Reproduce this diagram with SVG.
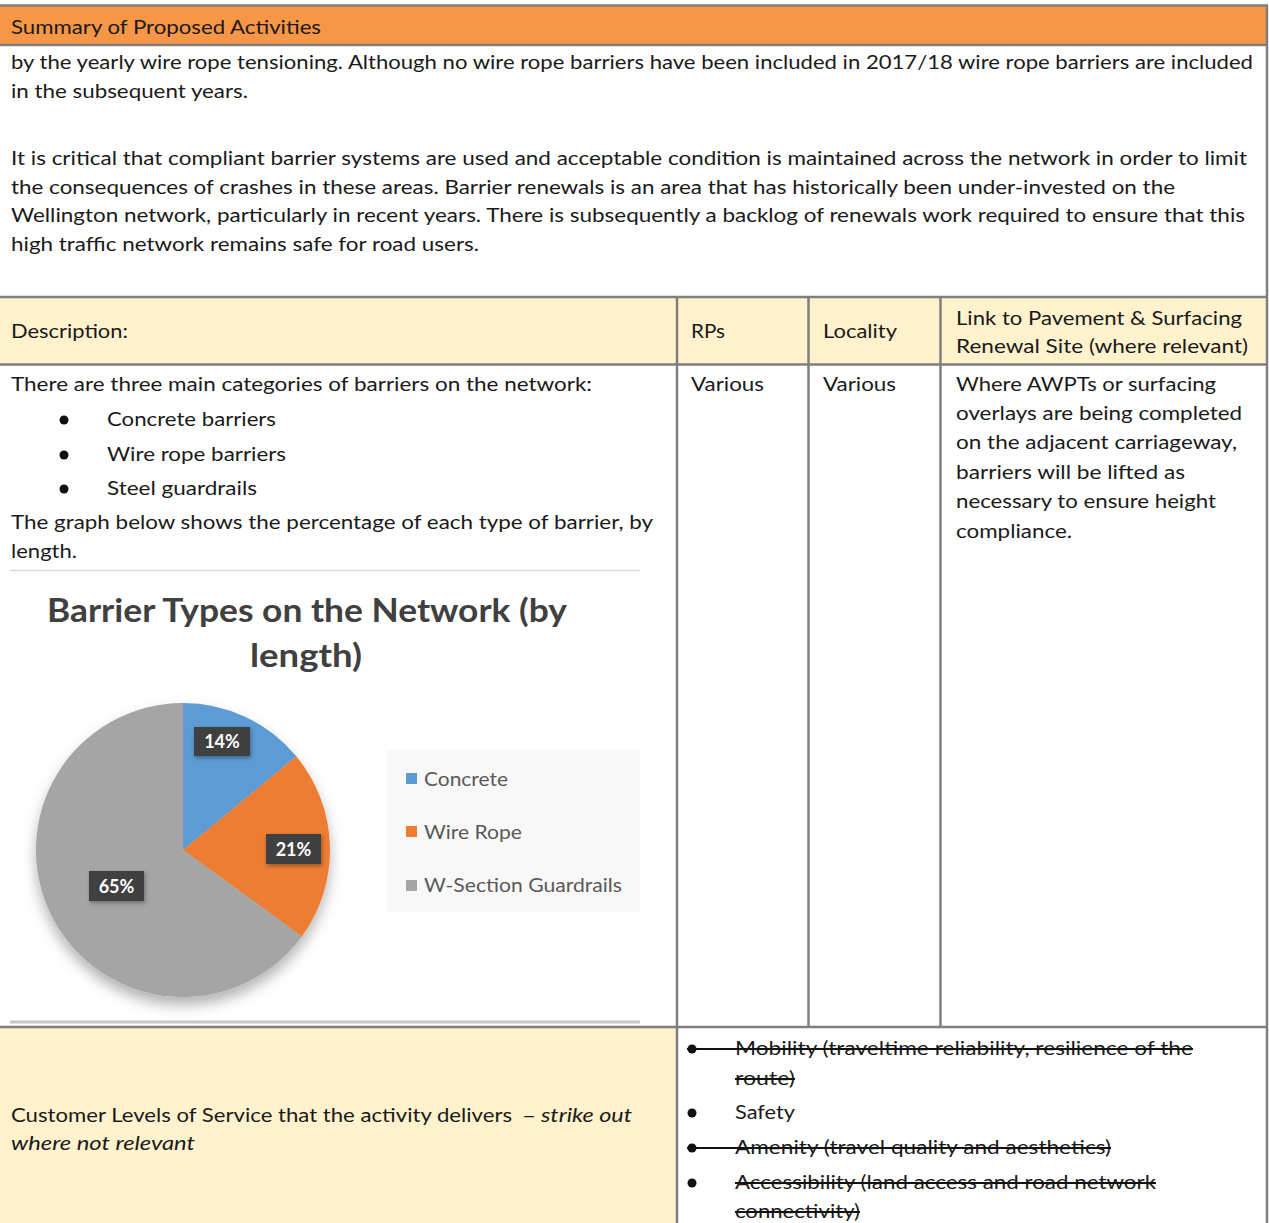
<svg xmlns="http://www.w3.org/2000/svg" width="1269" height="1223" viewBox="0 0 1269 1223">
<style>
.t{font-family:Lato,"Open Sans","Liberation Sans",sans-serif;font-size:19.5px;fill:#1a1a1a}
.i{font-style:italic}
.b{stroke:#7f7f7f;stroke-width:2.5;fill:none}
.s{stroke:#111;stroke-width:2}
.ct{font-family:Lato,"Open Sans","Liberation Sans",sans-serif;font-weight:bold;font-size:32px;fill:#404040;text-anchor:middle}
.lg{font-family:Lato,"Open Sans","Liberation Sans",sans-serif;font-size:19px;fill:#595959}
.dl{font-family:Lato,"Open Sans","Liberation Sans",sans-serif;font-weight:bold;font-size:18px;fill:#fff;text-anchor:middle}
.box{fill:#404040}
</style>
<defs>
<filter id="sh" x="-20%" y="-20%" width="140%" height="150%">
<feDropShadow dx="0" dy="8" stdDeviation="7" flood-color="#000" flood-opacity="0.3"/>
</filter>
<filter id="sh2" x="-30%" y="-30%" width="160%" height="170%">
<feDropShadow dx="1" dy="2" stdDeviation="2" flood-color="#000" flood-opacity="0.35"/>
</filter>
</defs>
<rect x="0" y="0" width="1269" height="1223" fill="#fff"/>
<g id="title-bar">
<rect x="0" y="6" width="1268" height="39" fill="#F79646"/>
<line class="b" x1="0" y1="5.5" x2="1268" y2="5.5"/>
<line class="b" x1="0" y1="45" x2="1268" y2="45"/>
<text class="t" x="11" y="34" textLength="310" lengthAdjust="spacingAndGlyphs">Summary of Proposed Activities</text>
</g>
<g id="intro">
<text class="t" x="11" y="69" textLength="1242" lengthAdjust="spacingAndGlyphs">by the yearly wire rope tensioning. Although no wire rope barriers have been included in 2017/18 wire rope barriers are included</text>
<text class="t" x="11" y="98" textLength="237" lengthAdjust="spacingAndGlyphs">in the subsequent years.</text>
<text class="t" x="11" y="165" textLength="1236" lengthAdjust="spacingAndGlyphs">It is critical that compliant barrier systems are used and acceptable condition is maintained across the network in order to limit</text>
<text class="t" x="11" y="194" textLength="1164" lengthAdjust="spacingAndGlyphs">the consequences of crashes in these areas. Barrier renewals is an area that has historically been under-invested on the</text>
<text class="t" x="11" y="222" textLength="1234" lengthAdjust="spacingAndGlyphs">Wellington network, particularly in recent years. There is subsequently a backlog of renewals work required to ensure that this</text>
<text class="t" x="11" y="251" textLength="468" lengthAdjust="spacingAndGlyphs">high traffic network remains safe for road users.</text>
</g>
<g id="column-headers">
<rect x="0" y="298" width="1267" height="66" fill="#FFF2CC"/>
<text class="t" x="11" y="338" textLength="117" lengthAdjust="spacingAndGlyphs">Description:</text>
<text class="t" x="691" y="338" textLength="34" lengthAdjust="spacingAndGlyphs">RPs</text>
<text class="t" x="823" y="338" textLength="74" lengthAdjust="spacingAndGlyphs">Locality</text>
<text class="t" x="956" y="325" textLength="286" lengthAdjust="spacingAndGlyphs">Link to Pavement &amp; Surfacing</text>
<text class="t" x="956" y="353" textLength="292" lengthAdjust="spacingAndGlyphs">Renewal Site (where relevant)</text>
</g>
<g id="description-cell">
<text class="t" x="11" y="391" textLength="581" lengthAdjust="spacingAndGlyphs">There are three main categories of barriers on the network:</text>
<circle cx="64" cy="420" r="4.5" fill="#111"/>
<circle cx="64" cy="455" r="4.5" fill="#111"/>
<circle cx="64" cy="489" r="4.5" fill="#111"/>
<text class="t" x="107" y="426" textLength="169" lengthAdjust="spacingAndGlyphs">Concrete barriers</text>
<text class="t" x="107" y="461" textLength="179" lengthAdjust="spacingAndGlyphs">Wire rope barriers</text>
<text class="t" x="107" y="495" textLength="150" lengthAdjust="spacingAndGlyphs">Steel guardrails</text>
<text class="t" x="11" y="529" textLength="642" lengthAdjust="spacingAndGlyphs">The graph below shows the percentage of each type of barrier, by</text>
<text class="t" x="11" y="558" textLength="66" lengthAdjust="spacingAndGlyphs">length.</text>
</g>
<g id="chart">
<line x1="10" y1="570.5" x2="640" y2="570.5" stroke="#d9d9d9" stroke-width="1.5"/>
<line x1="10" y1="1022" x2="640" y2="1022" stroke="#c8c8c8" stroke-width="3"/>
<text class="ct" x="307" y="622" textLength="520" lengthAdjust="spacingAndGlyphs">Barrier Types on the Network (by</text>
<text class="ct" x="306" y="667" textLength="112" lengthAdjust="spacingAndGlyphs">length)</text>
<g id="pie" filter="url(#sh)">
<path d="M183 850 L183 703 A147 147 0 0 1 296.3 756.3 Z" fill="#5B9BD5"/>
<path d="M183 850 L296.3 756.3 A147 147 0 0 1 301.9 936.4 Z" fill="#ED7D31"/>
<path d="M183 850 L301.9 936.4 A147 147 0 1 1 183 703 Z" fill="#A5A5A5"/>
</g>
<g id="label-14">
<rect class="box" x="194" y="727" width="56" height="29" filter="url(#sh2)"/>
<text class="dl" x="222" y="748">14%</text>
</g>
<g id="label-21">
<rect class="box" x="266" y="834" width="55" height="30" filter="url(#sh2)"/>
<text class="dl" x="293.5" y="856">21%</text>
</g>
<g id="label-65">
<rect class="box" x="89" y="871" width="55" height="30" filter="url(#sh2)"/>
<text class="dl" x="116.5" y="893">65%</text>
</g>
<g id="legend">
<rect x="386" y="750" width="254" height="162" fill="#f8f8f8"/>
<rect x="406" y="773" width="11" height="11" fill="#5B9BD5"/>
<rect x="406" y="826" width="11" height="11" fill="#ED7D31"/>
<rect x="406" y="880" width="11" height="11" fill="#A5A5A5"/>
<text class="lg" x="424" y="786" textLength="84" lengthAdjust="spacingAndGlyphs">Concrete</text>
<text class="lg" x="424" y="839" textLength="98" lengthAdjust="spacingAndGlyphs">Wire Rope</text>
<text class="lg" x="424" y="892" textLength="198" lengthAdjust="spacingAndGlyphs">W-Section Guardrails</text>
</g>
</g>
<g id="rps-cell">
<text class="t" x="691" y="391" textLength="73" lengthAdjust="spacingAndGlyphs">Various</text>
</g>
<g id="locality-cell">
<text class="t" x="823" y="391" textLength="73" lengthAdjust="spacingAndGlyphs">Various</text>
</g>
<g id="link-cell">
<text class="t" x="956" y="391" textLength="260" lengthAdjust="spacingAndGlyphs">Where AWPTs or surfacing</text>
<text class="t" x="956" y="420" textLength="286" lengthAdjust="spacingAndGlyphs">overlays are being completed</text>
<text class="t" x="956" y="449" textLength="281" lengthAdjust="spacingAndGlyphs">on the adjacent carriageway,</text>
<text class="t" x="956" y="479" textLength="229" lengthAdjust="spacingAndGlyphs">barriers will be lifted as</text>
<text class="t" x="956" y="508" textLength="260" lengthAdjust="spacingAndGlyphs">necessary to ensure height</text>
<text class="t" x="956" y="538" textLength="116" lengthAdjust="spacingAndGlyphs">compliance.</text>
</g>
<g id="los-label-cell">
<rect x="0" y="1028" width="677" height="195" fill="#FFF2CC"/>
<text class="t" x="11" y="1122" textLength="501" lengthAdjust="spacingAndGlyphs">Customer Levels of Service that the activity delivers</text>
<text class="t" x="522" y="1122" textLength="14" lengthAdjust="spacingAndGlyphs">–</text>
<text class="t i" x="541" y="1122" textLength="91" lengthAdjust="spacingAndGlyphs">strike out</text>
<text class="t i" x="11" y="1150" textLength="184" lengthAdjust="spacingAndGlyphs">where not relevant</text>
</g>
<g id="los-list-cell">
<circle cx="692" cy="1049" r="4.5" fill="#111"/>
<circle cx="692" cy="1113" r="4.5" fill="#111"/>
<circle cx="692" cy="1148" r="4.5" fill="#111"/>
<circle cx="692" cy="1183" r="4.5" fill="#111"/>
<text class="t" x="735" y="1055" textLength="458" lengthAdjust="spacingAndGlyphs">Mobility (traveltime reliability, resilience of the</text>
<text class="t" x="735" y="1085" textLength="60" lengthAdjust="spacingAndGlyphs">route)</text>
<text class="t" x="735" y="1119" textLength="60" lengthAdjust="spacingAndGlyphs">Safety</text>
<text class="t" x="735" y="1154" textLength="376" lengthAdjust="spacingAndGlyphs">Amenity (travel quality and aesthetics)</text>
<text class="t" x="735" y="1189" textLength="421" lengthAdjust="spacingAndGlyphs">Accessibility (land access and road network</text>
<text class="t" x="735" y="1218" textLength="125" lengthAdjust="spacingAndGlyphs">connectivity)</text>
<line class="s" x1="687" y1="1049" x2="1193" y2="1049"/>
<line class="s" x1="735" y1="1079" x2="795" y2="1079"/>
<line class="s" x1="687" y1="1148" x2="1111" y2="1148"/>
<line class="s" x1="735" y1="1183" x2="1156" y2="1183"/>
<line class="s" x1="735" y1="1212" x2="860" y2="1212"/>
</g>
<g id="grid">
<line class="b" x1="0" y1="297" x2="1268" y2="297"/>
<line class="b" x1="0" y1="364.5" x2="1268" y2="364.5"/>
<line class="b" x1="0" y1="1027" x2="1268" y2="1027"/>
<line class="b" x1="677" y1="297" x2="677" y2="1223"/>
<line class="b" x1="808.5" y1="297" x2="808.5" y2="1027"/>
<line class="b" x1="940.5" y1="297" x2="940.5" y2="1027"/>
<line class="b" x1="1267" y1="5" x2="1267" y2="1223"/>
</g>
</svg>
